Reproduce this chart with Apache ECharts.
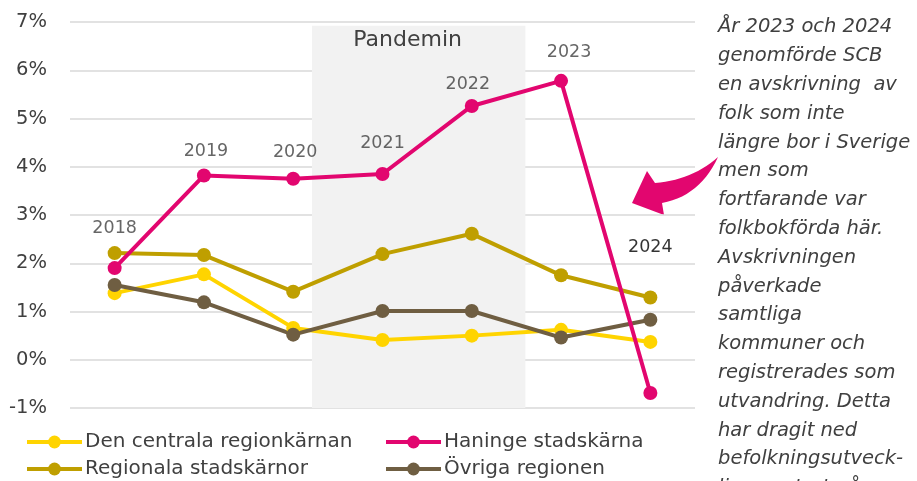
<!DOCTYPE html>
<html>
<head>
<meta charset="utf-8">
<style>
  html, body { margin: 0; padding: 0; background: #fff; }
  #chart { width: 917px; height: 481px; }
</style>
<script src="https://cdn.jsdelivr.net/npm/echarts@6/dist/echarts.min.js"></script>
</head>
<body>
<div id="chart"></div>
<script type="text/javascript">
var years = ['2018', '2019', '2020', '2021', '2022', '2023', '2024'];
var centrala = [1.38, 1.77, 0.66, 0.41, 0.50, 0.62, 0.37];
var haninge = [1.90, 3.82, 3.75, 3.85, 5.26, 5.78, -0.69];
var regionala = [2.21, 2.17, 1.41, 2.19, 2.61, 1.75, 1.29];
var ovriga = [1.55, 1.19, 0.52, 1.01, 1.01, 0.46, 0.83];
/* hoejd for aarsetiketterna */
var yearLabelY = [2.73, 4.31, 4.29, 4.49, 5.71, 6.36, 2.32];
var yearLabelShift = [0, 2, 2, 0, -4, 8, 0];
var pandemicSpan = [2020.21, 2022.6];
var pandemicTop = 6.92;
var yTicks = [-1, 0, 1, 2, 3, 4, 5, 6, 7];
var noteLines = [
  'År 2023 och 2024', 'genomförde SCB', 'en avskrivning  av', 'folk som inte',
  'längre bor i Sverige', 'men som', 'fortfarande var', 'folkbokförda här.',
  'Avskrivningen', 'påverkade', 'samtliga', 'kommuner och',
  'registrerades som', 'utvandring. Detta', 'har dragit ned',
  'befolkningsutveck-', 'lingen stort på'
];

var font = 'DejaVu Sans';
var textGray = '#404040';

function lineSeries(name, data, color) {
  return {
    name: name, type: 'line', data: data,
    xAxisIndex: 0, yAxisIndex: 0,
    symbol: 'circle', symbolSize: 14,
    lineStyle: { width: 4, color: color },
    itemStyle: { color: color },
    z: 3
  };
}

/* kurva for pilen: kvadratisk bezier samplad till punkter */
function quad(p0, c, p1, n) {
  var pts = [];
  for (var i = 0; i <= n; i++) {
    var t = i / n, u = 1 - t;
    pts.push([u * u * p0[0] + 2 * u * t * c[0] + t * t * p1[0],
              u * u * p0[1] + 2 * u * t * c[1] + t * t * p1[1]]);
  }
  return pts;
}
var arrowPts = quad([718, 157], [692, 180], [655, 183], 14)
  .concat([[647, 171], [632, 203], [664, 215]])
  .concat(quad([662, 203], [700, 196], [718, 157], 14));

var yearData = [];
for (var i = 0; i < years.length; i++) {
  yearData.push({
    value: [Number(years[i]), yearLabelY[i]],
    label: { offset: [yearLabelShift[i], 0], color: i === 6 ? '#000' : textGray }
  });
}

var legendBase = {
  orient: 'vertical', top: 432, itemGap: 7,
  itemWidth: 55, itemHeight: 16, padding: 0,
  lineStyle: { width: 4 },
  textStyle: { fontSize: 20, color: textGray, fontFamily: font, padding: [0, 0, 0, -2] }
};

var chart = echarts.init(document.getElementById('chart'));
var option = {
  animation: false,
  textStyle: { fontFamily: font },
  grid: { left: 70, right: 222, top: 22, bottom: 73 },
  legend: [
    echarts.util.merge({ left: 25, data: ['Den centrala regionkärnan', 'Regionala stadskärnor'] }, legendBase),
    echarts.util.merge({ left: 384, data: ['Haninge stadskärna', 'Övriga regionen'] }, legendBase)
  ],
  xAxis: [
    {
      type: 'category', data: years, boundaryGap: true,
      axisLine: { show: false }, axisTick: { show: false }, axisLabel: { show: false }
    },
    { type: 'value', min: 2017.5, max: 2024.5, show: false }
  ],
  yAxis: {
    type: 'value', min: yTicks[0], max: yTicks[yTicks.length - 1], interval: 1,
    axisLine: { show: false }, axisTick: { show: false },
    axisLabel: { formatter: '{value}%', fontSize: 19.5, color: textGray, margin: 23, fontFamily: font },
    splitLine: { lineStyle: { color: '#D9D9D9', width: 1.5 } }
  },
  series: [
    {
      name: 'pandemin', type: 'scatter', xAxisIndex: 1, symbolSize: 0, z: 1,
      data: [[pandemicSpan[0], yTicks[0]]],
      markArea: {
        silent: true,
        itemStyle: { color: '#F2F2F2' },
        label: { show: true, position: 'insideTop', distance: 3, offset: [-11, 0], fontSize: 22, color: textGray, fontFamily: font },
        data: [[
          { name: 'Pandemin', xAxis: pandemicSpan[0], yAxis: yTicks[0] },
          { xAxis: pandemicSpan[1], yAxis: pandemicTop }
        ]]
      }
    },
    lineSeries('Den centrala regionkärnan', centrala, '#FFD400'),
    lineSeries('Regionala stadskärnor', regionala, '#BF9F00'),
    lineSeries('Övriga regionen', ovriga, '#6F5E42'),
    lineSeries('Haninge stadskärna', haninge, '#E2066F'),
    {
      name: 'years', type: 'scatter', xAxisIndex: 1, symbolSize: 0, z: 5,
      label: {
        show: true, position: 'inside', fontSize: 17.5, fontFamily: font,
        formatter: function (p) { return String(p.value[0]); }
      },
      data: yearData
    }
  ],
  graphic: [
    {
      type: 'text', left: 718, top: 13, silent: true,
      style: {
        text: noteLines.join('\n'), fill: textGray, fontSize: 19.5, fontStyle: 'italic',
        fontFamily: font, lineHeight: 28.8
      }
    },
    {
      type: 'polygon', silent: true,
      shape: { points: arrowPts },
      style: { fill: '#E2066F' }
    }
  ]
};
chart.setOption(option);
</script>
</body>
</html>
